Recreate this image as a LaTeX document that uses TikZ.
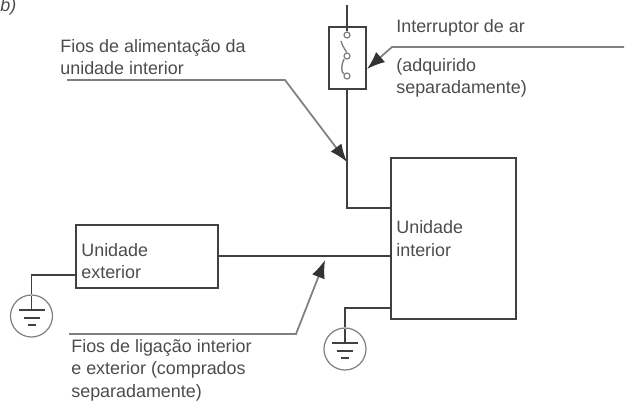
\documentclass[tikz,border=0pt]{standalone}
\usepackage{fontspec}
\usetikzlibrary{arrows.meta}
\setmainfont{Liberation Sans}
\definecolor{wire}{gray}{0.25}
\definecolor{leader}{gray}{0.5}
\definecolor{label}{gray}{0.3}
\begin{document}
\begin{tikzpicture}[x=0.02cm, y=-0.02cm,
	unit/.style={draw=wire, line width=1pt, inner sep=0pt},
	earth/.style={circle, draw=leader, line width=0.7pt, inner sep=0pt, minimum size=0.84cm},
	contact/.style={circle, draw=leader, line width=0.7pt, inner sep=0pt, minimum size=0.12cm},
	txt/.style={right, align=left, inner sep=0pt, text=label, font=\fontsize{10.2}{12.8}\selectfont},
	wired/.style={draw=wire, line width=1pt},
	lead/.style={draw=leader, line width=1pt},
	tip/.style={-{Latex[length=0.36cm,width=0.27cm,color=black!80]}}]
	\useasboundingbox (0,0) rectangle (626,400);

	\node[unit, minimum width=0.74cm, minimum height=1.24cm] (switch) at (347.5,58) {};
	\node[unit, minimum width=2.5cm, minimum height=3.22cm] (indoor) at (453.5,238.5) {};
	\node[unit, minimum width=2.84cm, minimum height=1.26cm] (outdoor) at (147,256.5) {};
	\node[earth] (earth1) at (31.5,316) {};
	\node[earth] (earth2) at (345,349) {};
	\node[contact] (c1) at (347,35) {};
	\node[contact] (c2) at (347,56) {};
	\node[contact] (c3) at (347,76) {};

	\node[txt] (t0) at (0,7) {\textit{b)}};
	\node[txt] (t1) at (60,57) {Fios de alimentação da\\unidade interior};
	\node[txt] (t2) at (396,28) {Interruptor de ar};
	\node[txt] (t3) at (396,78) {(adquirido\\separadamente)};
	\node[txt] (t4) at (396,238.5) {Unidade\\interior};
	\node[txt] (t5) at (81,261) {Unidade\\exterior};
	\node[txt] (t6) at (71,370) {Fios de ligação interior\\e exterior (comprados\\separadamente)};

	\coordinate (top) at (347,5);
	\coordinate (feed) at (347,208);
	\coordinate (link) at (218,256);
	\coordinate (lead1a) at (67,80);
	\coordinate (lead1b) at (285,80);
	\coordinate (lead1c) at (347,162);
	\coordinate (lead2a) at (624,47);
	\coordinate (lead2b) at (392,47);
	\coordinate (lead2c) at (367,69);
	\coordinate (lead3a) at (69,334);
	\coordinate (lead3b) at (296,334);
	\coordinate (lead3c) at (325,260);

	% wiring
	\path[wired] (top) -- (c1);
	\path[wired] (feed |- switch.south) -- (feed) -- (indoor.west |- feed);
	\path[wired] (link) -- (indoor.west |- link);
	\path[wired] (outdoor.west |- 0,275) -| (earth1);
	\path[wired] (indoor.west |- 0,308) -| (earth2);

	% blade of the switch
	\draw[leader, line width=0.8pt] (341,41) .. controls (343,48) and (346,50) .. (c2);
	\draw[leader, line width=0.8pt] (344,59) .. controls (341,66) and (341,72) .. (c3);

	% leaders
	\path[lead, tip] (lead1a) -- (lead1b) -- (lead1c);
	\path[lead, tip] (lead2a) -- (lead2b) -- (lead2c);
	\path[lead, tip] (lead3a) -- (lead3b) -- (lead3c);

	% earth bars
	\foreach \gx/\gy in {31.5/310, 345/343} {
		\draw[wire, line width=0.9pt] (\gx-13,\gy) -- (\gx+13,\gy);
		\draw[wire, line width=0.9pt] (\gx-8,\gy+8) -- (\gx+8,\gy+8);
		\draw[wire, line width=0.9pt] (\gx-4,\gy+15) -- (\gx+4,\gy+15);
		\draw[wire, line width=1pt] (\gx,\gy-14) -- (\gx,\gy);
	}
\end{tikzpicture}
\end{document}
